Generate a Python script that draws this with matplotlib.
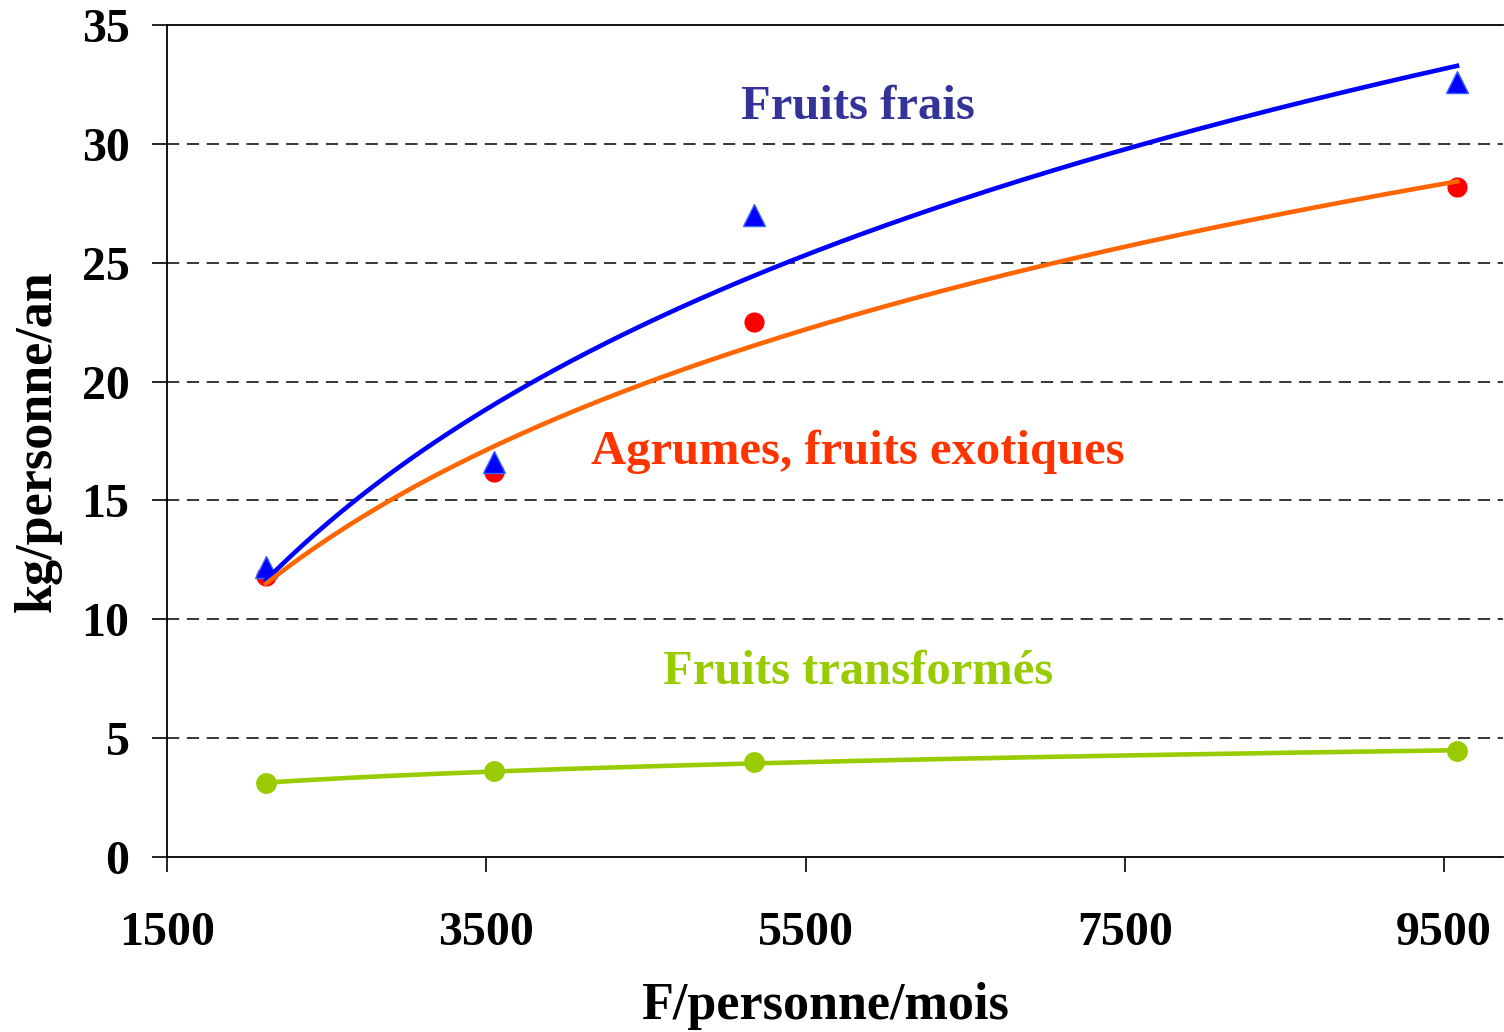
import numpy as np
import matplotlib
matplotlib.use("Agg")
import matplotlib.pyplot as plt

# revenu (F/personne/mois) et consommation (kg/personne/an)
revenu = [2120, 3550, 5175, 9580]
fruits_frais = [12.2, 16.6, 27.0, 32.6]
agrumes = [11.8, 16.2, 22.5, 28.2]
transformes = [3.1, 3.6, 4.0, 4.45]

xticks = [1500, 3500, 5500, 7500, 9500]
yticks = [0, 5, 10, 15, 20, 25, 30, 35]

plt.rcParams['font.family'] = ['Liberation Serif', 'DejaVu Serif']
plt.rcParams['font.weight'] = 'bold'

fig = plt.figure(figsize=(15.04, 10.32), dpi=100)
ax = fig.add_axes([0.111, 0.1696, 0.8885, 0.8062])

x = np.array(revenu, dtype=float)
xs = np.linspace(x.min(), x.max(), 200)

def tendance_log(y):
    # courbe de tendance logarithmique y = a*ln(x) + b
    b, a = np.polyfit(np.log(x), y, 1)
    return b * np.log(xs) + a

ax.plot(xs, tendance_log(fruits_frais), color='#0000FF', lw=3.3, zorder=3)
ax.plot(xs, tendance_log(agrumes), color='#FF6600', lw=3.3, zorder=3)
ax.plot(xs, tendance_log(transformes), color='#99CC00', lw=3.3, zorder=3)

ax.plot(x, agrumes, 'o', color='#FF0000', ms=14.5, mec='none', zorder=2)
ax.plot(x, fruits_frais, '^', color='#0000FF', ms=16, mec='#3366FF', mew=1, zorder=2.5)
ax.plot(x, transformes, 'o', color='#99CC00', ms=15, mec='none', zorder=4)

ax.set_xlim(1500, 9870)
ax.set_ylim(0, 35)
ax.set_xticks(xticks)
ax.set_yticks(yticks)
ax.tick_params(axis='both', labelsize=34.5, length=11, width=1.2, direction='out')
ax.tick_params(axis='x', pad=28)
ax.tick_params(axis='y', pad=16)

for yv in yticks[1:-1]:
    ax.axhline(yv, color='black', lw=1.1, ls=(0, (8, 5)), zorder=1)

ax.spines['right'].set_visible(False)
for s in ['left', 'bottom', 'top']:
    ax.spines[s].set_linewidth(1.3)

ax.set_xlabel('F/personne/mois', fontsize=37.5, fontweight='bold', labelpad=19)
ax.xaxis.label.set_x(0.4925)
ax.set_ylabel('kg/personne/an', fontsize=37.5, fontweight='bold', labelpad=14)

ax.text(5830, 31.55, 'Fruits frais', color='#333399', fontsize=35,
        fontweight='bold', ha='center', va='center')
ax.text(5830, 17.05, 'Agrumes, fruits exotiques', color='#FF3300', fontsize=35,
        fontweight='bold', ha='center', va='center')
ax.text(5830, 7.8, 'Fruits transformés', color='#99CC00', fontsize=35,
        fontweight='bold', ha='center', va='center')

fig.savefig('out.png', dpi=100)
